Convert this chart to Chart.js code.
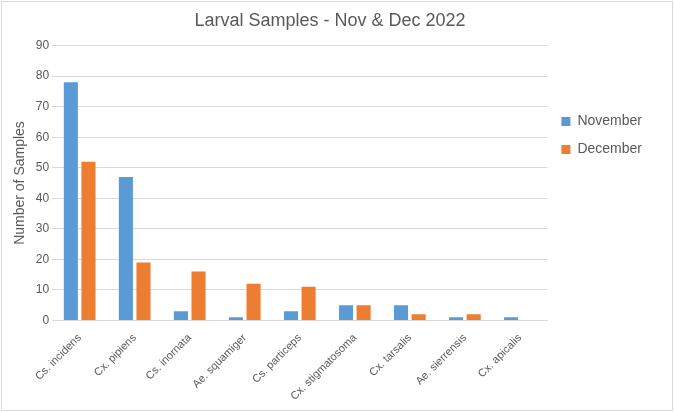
<!DOCTYPE html>
<html><head><script src="https://cdn.jsdelivr.net/npm/chart.js"></script>
<style>body{margin:0;background:#fff}#w{width:672px;height:410px;border:1px solid #d9d9d9;box-sizing:border-box;margin:1px}</style></head>
<body><div id="w"><canvas id="c"></canvas></div>
<script>
const categories=["Cs. incidens","Cx. pipiens","Cs. inornata","Ae. squamiger","Cs. particeps","Cx. stigmatosoma","Cx. tarsalis","Ae. sierrensis","Cx. apicalis"];
const november=[78,47,3,1,3,5,5,1,1];
const december=[52,19,16,12,11,5,2,2,0];
new Chart(document.getElementById('c'),{type:'bar',
data:{labels:categories,datasets:[
{label:'November',data:november,backgroundColor:'#5B9BD5',categoryPercentage:0.64,barPercentage:0.8},
{label:'December',data:december,backgroundColor:'#ED7D31',categoryPercentage:0.64,barPercentage:0.8}]},
options:{responsive:true,maintainAspectRatio:false,animation:false,
layout:{padding:{left:6,right:20,top:4,bottom:4}},
plugins:{title:{display:true,text:'Larval Samples - Nov & Dec 2022',color:'#595959',font:{family:'Liberation Sans',size:18,weight:'normal'},padding:{top:4,bottom:14}},
legend:{position:'right',align:'start',title:{display:true,text:' ',font:{size:12},padding:{top:0,bottom:80}},labels:{boxWidth:9,boxHeight:9,color:'#595959',font:{family:'Liberation Sans',size:14},padding:14}}},
scales:{y:{min:0,max:90,ticks:{stepSize:10,color:'#595959',font:{family:'Liberation Sans',size:12}},grid:{color:'#d9d9d9',drawTicks:false},border:{display:false},
title:{display:true,text:'Number of Samples',color:'#595959',font:{family:'Liberation Sans',size:14}}},
x:{grid:{display:false},border:{color:'#d9d9d9'},ticks:{maxRotation:45,minRotation:45,color:'#595959',font:{family:'Liberation Sans',size:11}}}}}});
</script></body></html>
